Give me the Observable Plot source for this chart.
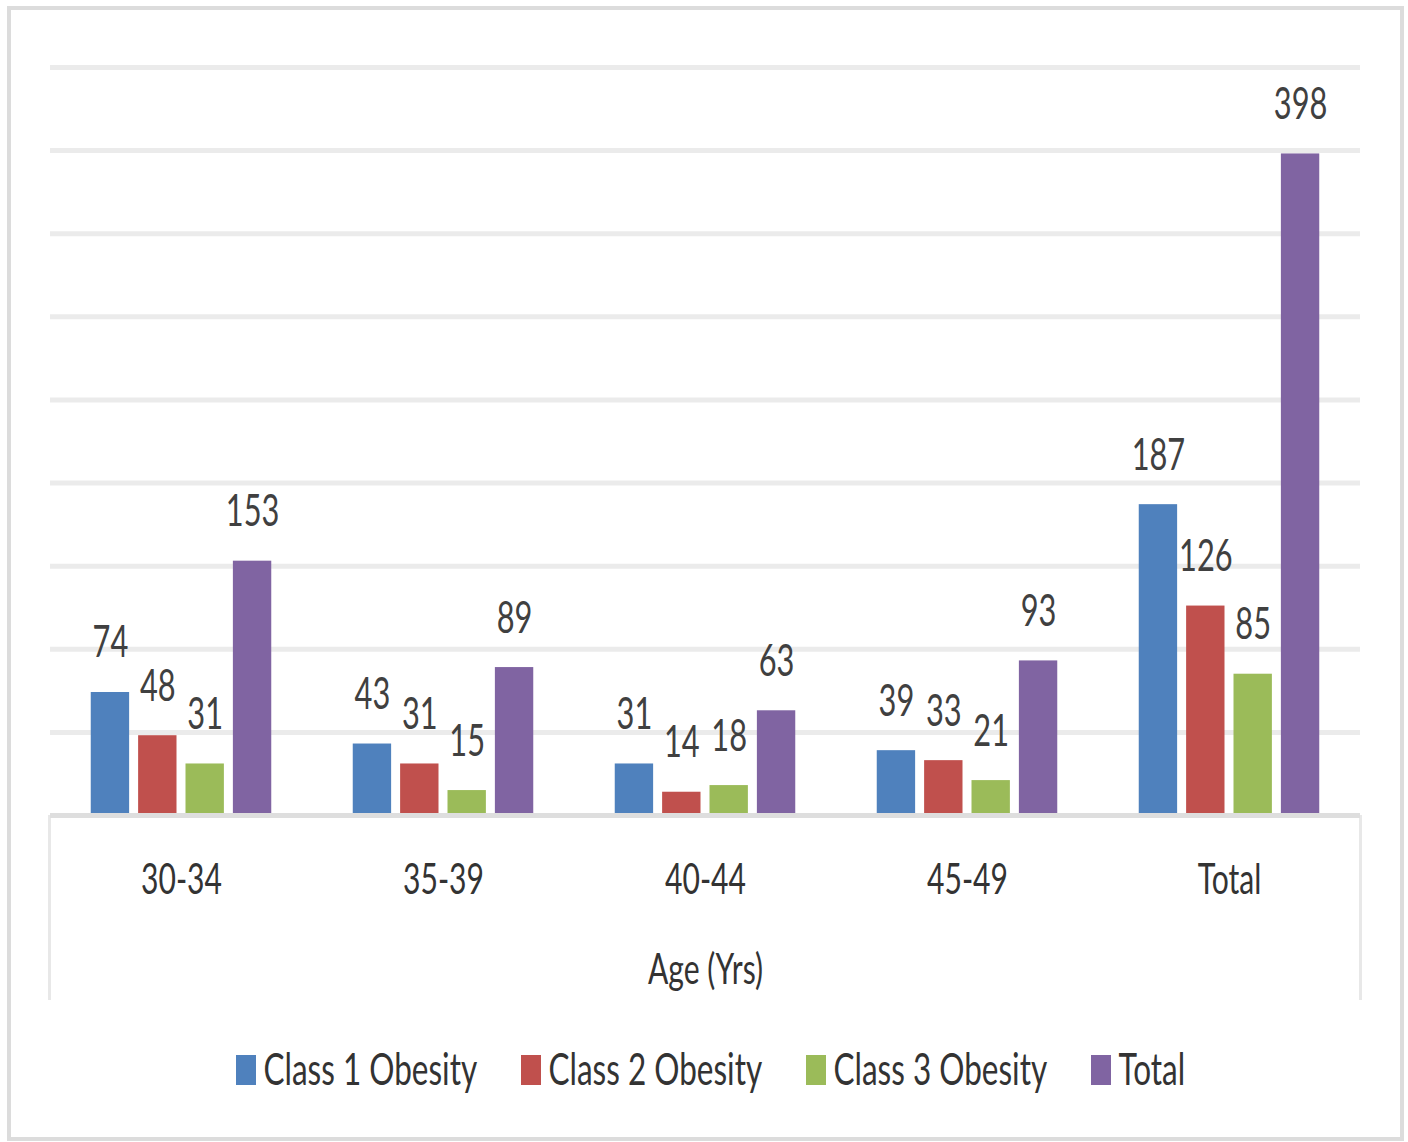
<!DOCTYPE html>
<html><head><meta charset="utf-8">
<script src="https://cdn.jsdelivr.net/npm/d3@7"></script>
<script src="https://cdn.jsdelivr.net/npm/@observablehq/plot@0.6"></script>
<style>
html,body{margin:0;padding:0;background:#fff;}
#frame{position:absolute;left:7px;top:6px;width:1389px;height:1127px;border:4px solid #dcdcdc;}
#axisbox{position:absolute;left:48px;top:815px;width:1308px;height:185px;border-left:3px solid #e8e8e8;border-right:3px solid #e8e8e8;}
#chart{position:absolute;left:0;top:0;}
#legend{position:absolute;left:0;top:1040px;}
</style></head><body>
<div id="frame"></div>
<div id="axisbox"></div>
<div id="chart"></div>
<div id="legend"></div>
<script>
const ageGroups = ["30-34", "35-39", "40-44", "45-49", "Total"];
const seriesNames = ["Class 1 Obesity", "Class 2 Obesity", "Class 3 Obesity", "Total"];
const class1 = [74, 43, 31, 39, 187];
const class2 = [48, 31, 14, 33, 126];
const class3 = [31, 15, 18, 21, 85];
const totals = [153, 89, 63, 93, 398];
const seriesColors = ["#4F81BD", "#C0504D", "#9BBB59", "#8064A2"];
const gridTicks = [0, 50, 100, 150, 200, 250, 300, 350, 400, 450];
const xAxisLabel = "Age (Yrs)";

const seriesValues = [class1, class2, class3, totals];
const data = ageGroups.flatMap((age, i) =>
  seriesNames.map((s, j) => ({age, series: s, value: seriesValues[j][i]})));

const FONT = "Lato, 'Open Sans', sans-serif";
const SQUEEZE = 0.7;

function squeeze(svg, s) {
  svg.querySelectorAll("text").forEach(t => {
    const tr = t.getAttribute("transform");
    if (tr) t.setAttribute("transform", tr + ` scale(${s},1)`);
    else {
      const x = +t.getAttribute("x") || 0;
      t.setAttribute("transform", `translate(${x},0) scale(${s},1) translate(${-x},0)`);
    }
  });
}

const chart = Plot.plot({
  width: 1408,
  height: 1010,
  marginLeft: 50,
  marginRight: 48,
  marginTop: 67,
  marginBottom: 195,
  style: {fontFamily: FONT, background: "transparent", overflow: "visible"},
  fx: {domain: ageGroups, padding: 0},
  x: {domain: seriesNames, paddingInner: 0.19, paddingOuter: 0.86, round: false, axis: null},
  y: {domain: [0, 450], axis: null},
  color: {domain: seriesNames, range: seriesColors},
  marks: [
    Plot.ruleY(gridTicks, {stroke: "#ebebeb", strokeWidth: 5}),
    Plot.barY(data, {fx: "age", x: "series", y: "value", fill: "series"}),
    Plot.ruleY([0], {stroke: "#dedede", strokeWidth: 5}),
    Plot.text(data, {fx: "age", x: "series", y: "value", text: d => String(d.value),
      dy: -35, lineAnchor: "bottom", fontSize: 44, fill: "#404040"}),
    Plot.axisFx({anchor: "bottom", tickSize: 0, tickPadding: 48, fontSize: 43, fill: "#333",
      label: xAxisLabel, labelAnchor: "center", labelOffset: 168})
  ]
});
squeeze(chart, SQUEEZE);
document.getElementById("chart").appendChild(chart);

const legend = Plot.plot({
  width: 1408,
  height: 60,
  marginTop: 15,
  marginBottom: 15,
  marginLeft: 0,
  marginRight: 0,
  style: {fontFamily: FONT, background: "transparent", overflow: "visible"},
  x: {domain: seriesNames, range: [236, 1376], padding: 0, axis: null},
  color: {domain: seriesNames, range: seriesColors},
  marks: [
    Plot.cell(seriesNames, {x: d => d, fill: d => d, insetRight: 265}),
    Plot.text(seriesNames, {x: d => d, text: d => d, textAnchor: "start", dx: -115.5,
      lineAnchor: "middle", fontSize: 45, fill: "#333"})
  ]
});
squeeze(legend, SQUEEZE);
document.getElementById("legend").appendChild(legend);
</script>
</body></html>
